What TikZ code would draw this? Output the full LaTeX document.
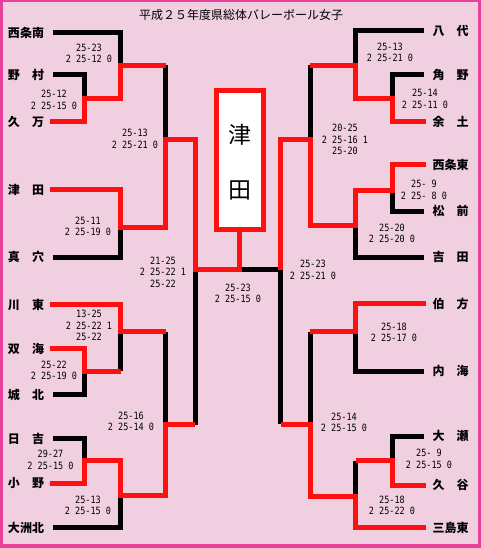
\documentclass[tikz,border=0pt]{standalone}
\usepackage{fontspec}
\newfontfamily\cjk{Noto Sans CJK JP}
\newfontfamily\scorefont{DejaVu Sans Mono}[FakeStretch=0.85]
\definecolor{bgpink}{RGB}{240,208,224}
\definecolor{bordpink}{RGB}{232,64,156}
\definecolor{wred}{RGB}{255,16,16}
\tikzset{
  blk/.style={line width=5pt, draw=black, line cap=square, line join=miter},
  win/.style={line width=5pt, draw=wred, line cap=butt, line join=miter},
  team/.style={font=\cjk\bfseries\fontsize{12}{12}\selectfont, inner sep=0pt, anchor=center},
  score/.style={font=\scorefont\fontsize{10}{11.5}\selectfont, align=center, inner sep=0pt},
  champtext/.style={font=\cjk\fontsize{23}{23}\selectfont, inner sep=0pt}
}
\begin{document}
\begin{tikzpicture}[x=1pt,y=-1pt]
\fill[bordpink] (0,0) rectangle (481,548);
\fill[bgpink] (3,2.5) rectangle (478,544);
\useasboundingbox (0,0) rectangle (481,548);

\node[font=\cjk\fontsize{12}{12}\selectfont, inner sep=0pt] (title) at (241,15) {平成２５年度県総体バレーボール女子};

% team names left
\node[team] (n1) at (26,32.5) {西条南};
\node[team] (n2) at (26,75) {野　村};
\node[team] (n3) at (26,122) {久　万};
\node[team] (n4) at (26,189.5) {津　田};
\node[team] (n5) at (26,257) {真　穴};
\node[team] (n6) at (26,304.5) {川　東};
\node[team] (n7) at (26,348.5) {双　海};
\node[team] (n8) at (26,394.5) {城　北};
\node[team] (n9) at (26,438.5) {日　吉};
\node[team] (n10) at (26,483.5) {小　野};
\node[team] (n11) at (26,527.5) {大洲北};
% team names right
\node[team] (m1) at (450.5,30.5) {八　代};
\node[team] (m2) at (450.5,75) {角　野};
\node[team] (m3) at (450.5,121.5) {余　土};
\node[team] (m4) at (450.5,164.5) {西条東};
\node[team] (m5) at (450.5,211) {松　前};
\node[team] (m6) at (450.5,257) {吉　田};
\node[team] (m7) at (450.5,303.5) {伯　方};
\node[team] (m8) at (450.5,371) {内　海};
\node[team] (m9) at (450.5,436) {大　瀬};
\node[team] (m10) at (450.5,485) {久　谷};
\node[team] (m11) at (450.5,527.5) {三島東};

% champion box
\node[draw=wred, line width=5pt, fill=white, minimum width=47pt, minimum height=139pt, inner sep=0pt] (champ) at (239.5,160) {};
\node[champtext] (ch1) at (239.5,135) {津};
\node[champtext] (ch2) at (239.5,190) {田};

% black (losing) lines
\draw[blk] (52.5,32.5) -- (120.5,32.5) -- (120.5,65.5);
\draw[blk] (52.5,75) -- (84.5,75) -- (84.5,99);
\draw[blk] (165.5,65.5) -- (165.5,139.5);
\draw[blk] (52.5,257) -- (120.5,257) -- (120.5,227.5);
\draw[blk] (120.5,371) -- (120.5,331.5);
\draw[blk] (52.5,394.5) -- (84.5,394.5) -- (84.5,371);
\draw[blk] (165.5,331.5) -- (165.5,424.5);
\draw[blk] (52.5,438.5) -- (84.5,438.5) -- (84.5,460.5);
\draw[blk] (52.5,527.5) -- (120.5,527.5) -- (120.5,495.5);
\draw[blk] (195,269.5) -- (195,424.5);
\draw[blk] (239.5,269.5) -- (280.5,269.5) -- (280.5,424);
\draw[blk] (423.5,30.5) -- (355.5,30.5) -- (355.5,65.5);
\draw[blk] (423.5,75) -- (392.5,75) -- (392.5,99);
\draw[blk] (310,65.5) -- (310,139.5);
\draw[blk] (423.5,211) -- (392.5,211) -- (392.5,190.5);
\draw[blk] (423.5,257) -- (355.5,257) -- (355.5,225.5);
\draw[blk] (423.5,371) -- (355.5,371) -- (355.5,331.5);
\draw[blk] (310,331.5) -- (310,424);
\draw[blk] (423.5,436) -- (392.5,436) -- (392.5,460.5);
\draw[blk] (355.5,460.5) -- (355.5,496.5);

% red (winning) lines
\draw[win] (50,122) -- (84.5,122) -- (84.5,99) -- (120.5,99) -- (120.5,65.5) -- (165.5,65.5);
\draw[win] (50,189.5) -- (120.5,189.5) -- (120.5,227.5) -- (165.5,227.5) -- (165.5,139.5) -- (195,139.5) -- (195,269.5) -- (239.5,269.5) -- (champ.south);
\draw[win] (50,304.5) -- (120.5,304.5) -- (120.5,331.5) -- (165.5,331.5);
\draw[win] (50,348.5) -- (84.5,348.5) -- (84.5,371) -- (120.5,371);
\draw[win] (50,483.5) -- (84.5,483.5) -- (84.5,460.5) -- (120.5,460.5) -- (120.5,495.5) -- (165.5,495.5) -- (165.5,424.5) -- (195,424.5);
\draw[win] (426,121.5) -- (392.5,121.5) -- (392.5,99) -- (355.5,99) -- (355.5,65.5) -- (310,65.5);
\draw[win] (426,164.5) -- (392.5,164.5) -- (392.5,190.5) -- (355.5,190.5) -- (355.5,225.5) -- (310,225.5) -- (310,139.5) -- (280.5,139.5) -- (280.5,269.5);
\draw[win] (426,303.5) -- (355.5,303.5) -- (355.5,331.5) -- (310,331.5);
\draw[win] (426,485) -- (392.5,485) -- (392.5,460.5) -- (355.5,460.5);
\draw[win] (426,527.5) -- (355.5,527.5) -- (355.5,496.5) -- (310,496.5) -- (310,424) -- (280.5,424);

% scores left
\node[score] (s1) at (89,53.5) {25-23\\2 25-12 0};
\node[score] (s2) at (54,100) {25-12\\2 25-15 0};
\node[score] (s3) at (135,139) {25-13\\2 25-21 0};
\node[score] (s4) at (88,226.5) {25-11\\2 25-19 0};
\node[score] (s5) at (163,272) {21-25\\2 25-22 1\\25-22};
\node[score] (s6) at (89,325.5) {13-25\\2 25-22 1\\25-22};
\node[score] (s7) at (54,370.5) {25-22\\2 25-19 0};
\node[score] (s8) at (131,421.5) {25-16\\2 25-14 0};
\node[score] (s9) at (50.5,460) {29-27\\2 25-15 0};
\node[score] (s10) at (88,505.5) {25-13\\2 25-15 0};
% scores centre
\node[score] (c1) at (238,293.5) {25-23\\2 25-15 0};
\node[score] (c2) at (313,270) {25-23\\2 25-21 0};
% scores right
\node[score] (r1) at (390,52.5) {25-13\\2 25-21 0};
\node[score] (r2) at (425,99) {25-14\\2 25-11 0};
\node[score] (r3) at (345,139.5) {20-25\\2 25-16 1\\25-20};
\node[score] (r4) at (424,190) {25- 9\\2 25- 8 0};
\node[score] (r5) at (392,233.5) {25-20\\2 25-20 0};
\node[score] (r6) at (394,332.5) {25-18\\2 25-17 0};
\node[score] (r7) at (344,422.5) {25-14\\2 25-15 0};
\node[score] (r8) at (429,459) {25- 9\\2 25-15 0};
\node[score] (r9) at (392,505.5) {25-18\\2 25-22 0};
\end{tikzpicture}
\end{document}
